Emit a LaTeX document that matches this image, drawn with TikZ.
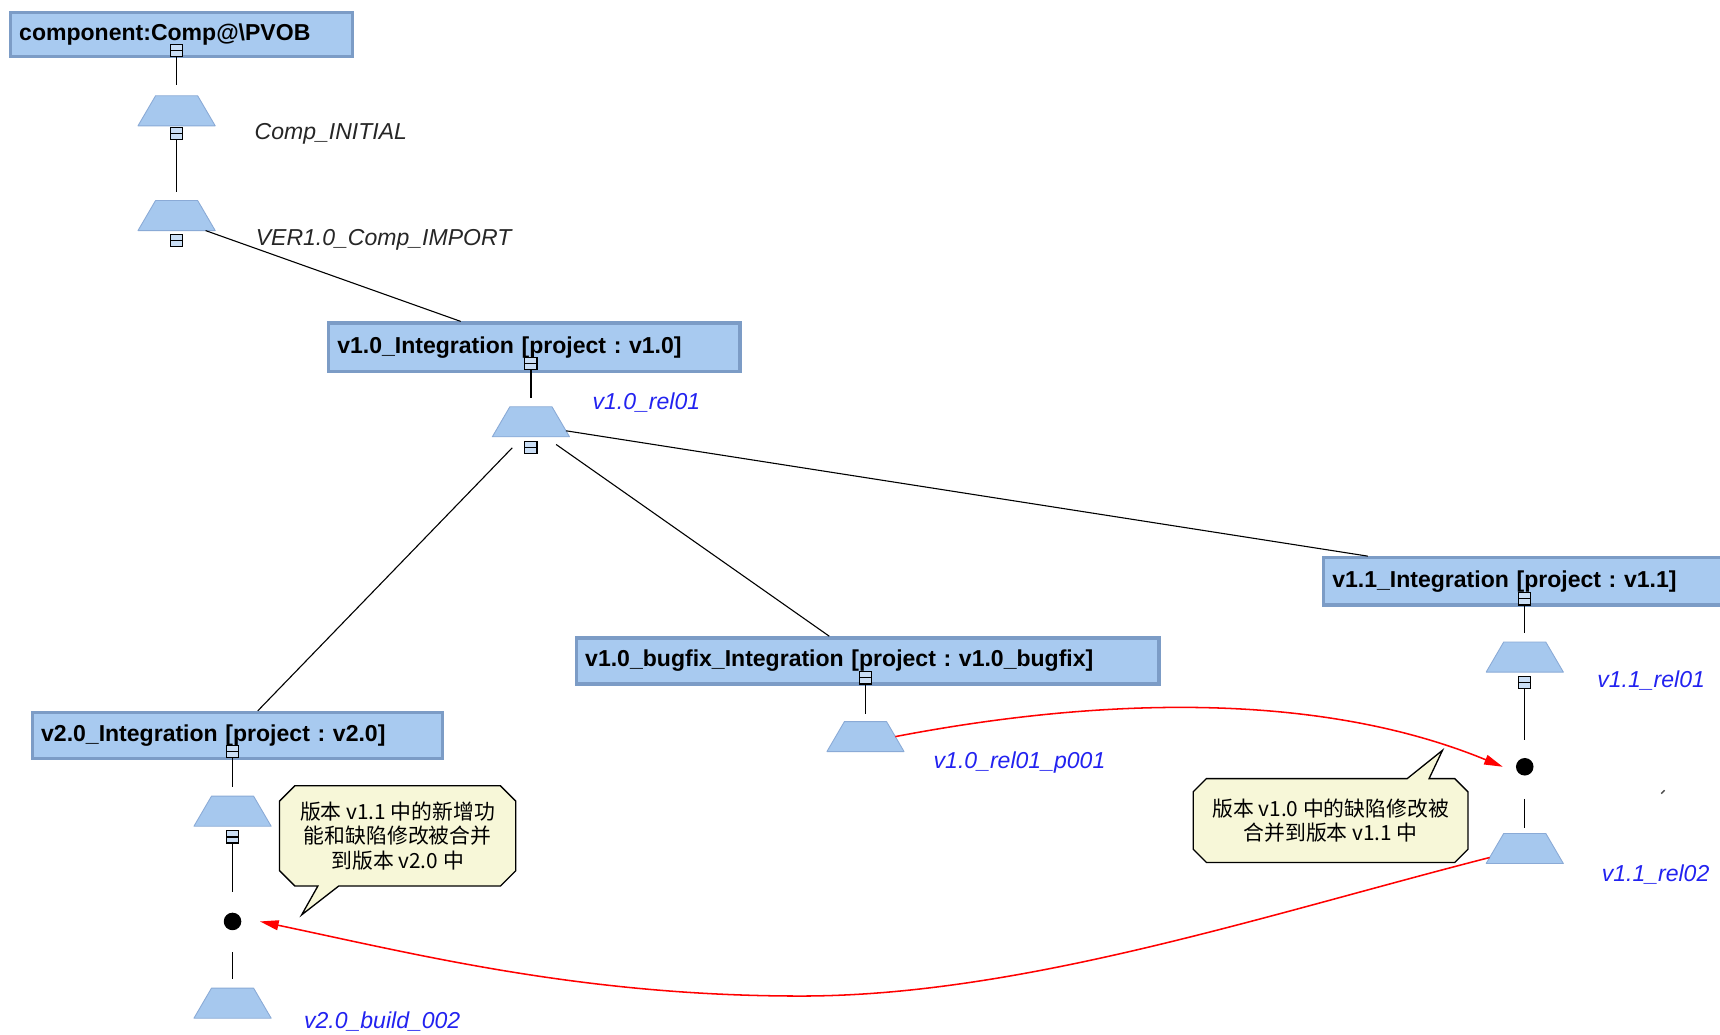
\documentclass[tikz,border=0pt]{standalone}
\usepackage{fontspec}
\setmainfont{Liberation Sans}
\newfontfamily\cjk{Noto Sans CJK SC}
\usetikzlibrary{arrows.meta,calc}

\definecolor{boxfill}{HTML}{A8CAF0}
\definecolor{boxedge}{HTML}{7C9CC6}
\definecolor{trapfill}{HTML}{A6C8EE}
\definecolor{trapedge}{HTML}{8AAAD6}
\definecolor{tagblue}{HTML}{2222F0}
\definecolor{notefill}{HTML}{F7F7D8}
\definecolor{linkred}{HTML}{FF0000}
\definecolor{labelgray}{HTML}{262626}

\pgfdeclarelayer{bg}
\pgfsetlayers{bg,main}

\tikzset{
  projbox/.style={draw=boxedge, line width=3pt, fill=boxfill, anchor=north west,
    inner xsep=8pt, inner ysep=0pt, minimum height=42pt, align=left,
    font=\fontsize{21}{24}\selectfont\bfseries, text=black},
  xmark/.style={rectangle, draw=black, line width=1pt, fill=trapfill!60!white,
    minimum size=11pt, inner sep=0pt,
    path picture={\draw[line width=1pt] (path picture bounding box.west) -- (path picture bounding box.east);}},
  stem/.style={draw=black, line width=1.2pt},
  trap/.style={rectangle, minimum width=70pt, minimum height=27pt, inner sep=0pt},
  trapshape/.style={fill=trapfill, draw=trapedge, line width=0.8pt, line join=round},
  mergept/.style={circle, fill=black, minimum size=16pt, inner sep=0pt},
  vlabel/.style={anchor=west, inner sep=0pt, font=\fontsize{21}{24}\selectfont\itshape, text=labelgray},
  tag/.style={anchor=west, inner sep=0pt, font=\fontsize{21}{24}\selectfont\itshape, text=tagblue},
  note/.style={inner sep=0pt, align=center, font=\cjk\fontsize{19}{22.5}\selectfont},
  noteline/.style={draw=black, line width=1.2pt, fill=notefill},
  merge/.style={draw=linkred, line width=1.4pt, -{Triangle[length=17pt,width=9pt]}}
}

% baseline marker: a trapezoid drawn over the frame of node #1
\newcommand\drawtrap[1]{%
  \path[trapshape] ([xshift=16pt]#1.north west) -- ([xshift=-16pt]#1.north east)
    -- (#1.south east) -- (#1.south west) -- cycle;}

\frenchspacing
\begin{document}
\begin{tikzpicture}[x=1pt,y=-1pt]
\path[use as bounding box, clip] (0,0) rectangle (1568,943);
\begin{pgfonlayer}{bg}
\fill[white] (0,0) rectangle (1568,943);
\end{pgfonlayer}

% component root and its baselines
\node[projbox, minimum width=312pt, text width=296pt, minimum height=40pt] (comp) at (8,10) {component:Comp@\textbackslash PVOB};
\node[xmark] (mcomp) at (161,46) {};
\node[trap] (tInit) at (161,101) {}; \drawtrap{tInit}
\node[xmark] (mInit) at (161,122) {};
\node[trap] (tImp) at (161,196.5) {}; \drawtrap{tImp}
\node[xmark] (mImp) at (161,219) {};
\node[vlabel] (lInit) at (232,122) {Comp\_INITIAL};
\node[vlabel] (lImp) at (233,219) {VER1.0\_Comp\_IMPORT};

% v1.0 integration stream
\node[projbox, minimum width=375pt, text width=359pt, minimum height=44pt] (i10) at (298,293) {v1.0\_Integration [project : v1.0]};
\node[xmark] (m10) at (484,331) {};
\node[trap] (t10) at (484,384.5) {}; \drawtrap{t10}
\node[xmark] (m10r) at (484,408) {};
\node[tag] (l10) at (540,367) {v1.0\_rel01};

% v1.1 integration stream
\node[projbox, minimum width=380pt, text width=364pt, minimum height=43pt] (i11) at (1205,507) {v1.1\_Integration [project : v1.1]};
\node[xmark] (m11) at (1390,546) {};
\node[trap] (t11a) at (1390,599) {}; \drawtrap{t11a}
\node[xmark] (m11a) at (1390,622) {};
\node[tag] (l11a) at (1456,620) {v1.1\_rel01};
\node[mergept] (d11) at (1390,699) {};
\node[trap] (t11b) at (1390,773.5) {}; \drawtrap{t11b}
\node[tag] (l11b) at (1460,797) {v1.1\_rel02};

% v1.0 bugfix stream
\node[projbox, minimum width=531pt, text width=515pt] (ibug) at (524,580) {v1.0\_bugfix\_Integration [project : v1.0\_bugfix]};
\node[xmark] (mbug) at (789,618) {};
\node[trap] (tbug) at (789,671.5) {}; \drawtrap{tbug}
\node[tag] (lbug) at (851,695) {v1.0\_rel01\_p001};

% v2.0 integration stream
\node[projbox, minimum width=374pt, text width=358pt] (i20) at (28,648) {v2.0\_Integration [project : v2.0]};
\node[xmark] (m20) at (212,685) {};
\node[trap] (t20a) at (212,739.5) {}; \drawtrap{t20a}
\node[xmark] (m20a) at (212,763) {};
\node[mergept] (d20) at (212,840) {};
\node[trap] (t20b) at (212,914.5) {}; \drawtrap{t20b}
\node[tag] (l20b) at (277,931) {v2.0\_build\_002};

% stream hierarchy
\draw[stem] (mcomp.south) -- ([yshift=10pt]tInit.north);
\draw[stem] (mInit.south) -- ([yshift=8pt]tImp.north);
\draw[stem, line width=1pt] ($(tImp.south)!0.75!(tImp.south east)$) -- ($(i10.north west)+(122,0)$);
\draw[stem] (m10.south) -- ([yshift=8pt]t10.north);
\draw[stem, line width=1pt] ($(t10.south east)!0.2!([xshift=-16pt]t10.north east)$) -- ($(i11.north west)+(42,0)$);
\draw[stem, line width=1pt] ([xshift=23pt,yshift=-7pt]t10.south) -- ($(ibug.north west)+(232,0)$);
\draw[stem, line width=1pt] ([xshift=-17pt,yshift=-10pt]t10.south) -- ($(i20.north west)+(207,0)$);
\draw[stem] (m11.south) -- ([yshift=8pt]t11a.north);
\draw[stem] (m11a.south) -- ([yshift=16pt]d11.north);
\draw[stem] ([yshift=-21pt]d11.south) -- ([yshift=5pt]t11b.north);
\draw[stem] (mbug.south) -- ([yshift=7pt]tbug.north);
\draw[stem] (m20.south) -- ([yshift=8pt]t20a.north);
\draw[stem] (m20a.south) -- ([yshift=19pt]d20.north);
\draw[stem] ([yshift=-20pt]d20.south) -- ([yshift=8pt]t20b.north);

% callouts
\node[note, minimum width=215pt, minimum height=91pt] (n20) at (362.5,762) {版本 v1.1 中的新增功\\能和缺陷修改被合并\\到版本 v2.0 中};
\coordinate (tip20) at (275,834);
\node[note, minimum width=250pt, minimum height=76pt] (n11) at (1213,748) {版本 v1.0 中的缺陷修改被\\合并到版本 v1.1 中};
\coordinate (tip11) at (1315,684);
\begin{pgfonlayer}{bg}
\draw[noteline] ([xshift=14pt]n20.north west) -- ([xshift=-14pt]n20.north east)
  -- ([yshift=-14pt]n20.north east) -- ([yshift=14pt]n20.south east)
  -- ([xshift=-14pt]n20.south east) -- ([xshift=54pt]n20.south west) -- (tip20)
  -- ([xshift=35pt]n20.south west) -- ([xshift=14pt]n20.south west)
  -- ([yshift=14pt]n20.south west) -- ([yshift=-14pt]n20.north west) -- cycle;
\draw[noteline] ([xshift=12pt]n11.north west) -- ([xshift=195pt]n11.north west) -- (tip11)
  -- ([xshift=215pt]n11.north west) -- ([xshift=-12pt]n11.north east)
  -- ([yshift=-12pt]n11.north east) -- ([yshift=12pt]n11.south east)
  -- ([xshift=-12pt]n11.south east) -- ([xshift=12pt]n11.south west)
  -- ([yshift=12pt]n11.south west) -- ([yshift=-12pt]n11.north west) -- cycle;
\end{pgfonlayer}

% merges between streams
\draw[merge] ($(tbug.south east)!0.5!([xshift=-16pt]tbug.north east)$)
  .. controls (980,640) and (1190,625) .. ([xshift=-20pt]d11.center);
\draw[merge] ($(t11b.south west)!0.2!([xshift=16pt]t11b.north west)$)
  .. controls (1150,835) and (930,908) .. (730,908)
  .. controls (530,908) and (380,870) .. ([xshift=25pt]d20.center);

% stray pixel mark near v1.1_rel02
\draw[gray!60!black, line width=1.3pt] (1514.5,723.5) -- (1517.5,720.5);
\end{tikzpicture}
\end{document}
